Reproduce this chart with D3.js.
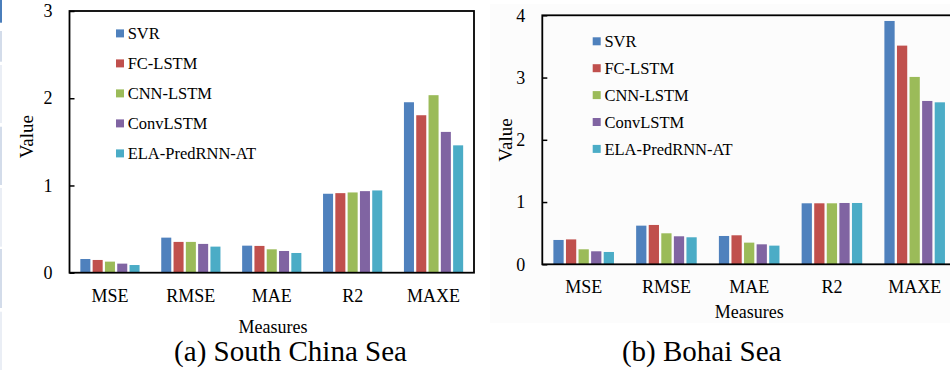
<!DOCTYPE html>
<html>
<head>
<meta charset="utf-8">
<script src="https://cdn.jsdelivr.net/npm/d3@7/dist/d3.min.js"></script>
<style>
  html, body { margin: 0; padding: 0; background: #ffffff; }
  svg { display: block; }
  text { font-family: "Liberation Serif", "Times New Roman", serif; fill: #000; }
</style>
</head>
<body>
<svg id="chart" width="950" height="370"></svg>
<script>
// Categories and model names
const measures = ["MSE", "RMSE", "MAE", "R2", "MAXE"];
const models = ["SVR", "FC-LSTM", "CNN-LSTM", "ConvLSTM", "ELA-PredRNN-AT"];
const modelColors = ["#4F81BD", "#C0504D", "#9BBB59", "#8064A2", "#4BACC6"];

// (a) South China Sea — one array per model, ordered as `measures`
const scsSVR      = [0.157, 0.402, 0.310, 0.905, 1.954];
const scsFCLSTM   = [0.146, 0.353, 0.307, 0.912, 1.805];
const scsCNNLSTM  = [0.127, 0.353, 0.268, 0.920, 2.035];
const scsConvLSTM = [0.104, 0.330, 0.249, 0.935, 1.614];
const scsELA      = [0.088, 0.299, 0.226, 0.943, 1.460];
const scsTicks = [0, 1, 2, 3];

// (b) Bohai Sea
const bhSVR      = [0.391, 0.621, 0.455, 0.980, 3.909];
const bhFCLSTM   = [0.400, 0.632, 0.466, 0.980, 3.513];
const bhCNNLSTM  = [0.241, 0.498, 0.348, 0.980, 3.010];
const bhConvLSTM = [0.209, 0.450, 0.321, 0.985, 2.624];
const bhELA      = [0.198, 0.434, 0.300, 0.985, 2.602];
const bhTicks = [0, 1, 2, 3, 4];

const svg = d3.select("#chart");

// thin sidebar strip on the far left edge
const strip = [[0, 22.7, "#4a7ebb"], [31, 61.7, "#d3dcea"], [65, 123, "#eaeef5"],
               [126.7, 185, "#d3dcea"], [188, 246.7, "#eaeef5"], [249, 308, "#d3dcea"],
               [311.7, 370, "#eaeef5"]];
svg.selectAll("rect.strip").data(strip).join("rect")
  .attr("class", "strip")
  .attr("x", 0).attr("width", 2)
  .attr("y", d => d[0]).attr("height", d => d[1] - d[0])
  .attr("fill", d => d[2]);

// faint panel background behind the second chart
svg.append("rect")
  .attr("x", 490).attr("y", 4).attr("width", 460).attr("height", 319)
  .attr("fill", "#fcfcfc");

function drawPanel(cfg) {
  const g = svg.append("g");
  const series = cfg.series;

  const x = d3.scaleBand().domain(measures).range([cfg.left, cfg.right]).padding(0);
  const bw = x.bandwidth();
  const step = bw * 0.152, barW = bw * 0.124;
  const gw = 4 * step + barW;
  const xi = d3.scaleBand().domain(models)
    .range([-gw / 2, gw / 2])
    .paddingInner((step - barW) / step).paddingOuter(0);

  const y = d3.scaleLinear().domain([0, cfg.yMax]).range([cfg.bottom, cfg.top]);

  // bars
  const rows = [];
  measures.forEach((m, j) => {
    models.forEach((mod, i) => rows.push({ m, mod, i, v: series[i][j] }));
  });
  g.selectAll("rect.bar").data(rows).join("rect")
    .attr("class", "bar")
    .attr("x", d => x(d.m) + bw / 2 + xi(d.mod))
    .attr("width", xi.bandwidth())
    .attr("y", d => y(d.v))
    .attr("height", d => y(0) - y(d.v))
    .attr("fill", d => modelColors[d.i]);

  // frame
  g.append("rect")
    .attr("x", cfg.left).attr("y", cfg.top)
    .attr("width", cfg.right - cfg.left).attr("height", cfg.bottom - cfg.top)
    .attr("fill", "none").attr("stroke", "#000").attr("stroke-width", 1.8);

  // y axis with inward ticks
  const ya = g.append("g")
    .attr("transform", `translate(${cfg.left},0)`)
    .call(d3.axisLeft(y).tickValues(cfg.ticks).tickFormat(d3.format("d"))
      .tickSizeInner(-5).tickSizeOuter(0).tickPadding(17));
  ya.select(".domain").remove();
  ya.selectAll(".tick line").attr("stroke", "#000").attr("stroke-width", 1.5);
  ya.selectAll(".tick text")
    .style("font-family", "'Liberation Serif', serif")
    .style("font-size", "18px").attr("fill", "#000");

  // category labels
  g.selectAll("text.cat").data(measures).join("text")
    .attr("class", "cat")
    .attr("x", d => x(d) + bw / 2)
    .attr("y", cfg.catY)
    .attr("text-anchor", "middle")
    .style("font-size", "18px")
    .text(d => d);

  // axis titles
  g.append("text")
    .attr("x", cfg.measuresX).attr("y", cfg.measuresY)
    .attr("text-anchor", "middle").style("font-size", "18px")
    .text("Measures");
  g.append("text")
    .attr("transform", `translate(${cfg.valueX},${cfg.valueY}) rotate(-90)`)
    .attr("text-anchor", "middle").style("font-size", "19px")
    .text("Value");

  // legend
  const lg = g.selectAll("g.leg").data(models).join("g")
    .attr("class", "leg")
    .attr("transform", (d, i) => `translate(${cfg.legX},${cfg.legY + i * cfg.legStep})`);
  lg.append("rect")
    .attr("x", 0).attr("y", -4).attr("width", 8).attr("height", 8)
    .attr("fill", (d, i) => modelColors[i]);
  lg.append("text")
    .attr("x", 11.7).attr("y", 6)
    .style("font-size", "16.5px")
    .text(d => d);

  // caption
  g.append("text")
    .attr("x", cfg.captionX).attr("y", 361)
    .attr("text-anchor", "middle").style("font-size", "29px")
    .text(cfg.caption);
}

drawPanel({
  series: [scsSVR, scsFCLSTM, scsCNNLSTM, scsConvLSTM, scsELA],
  ticks: scsTicks, yMax: 3,
  left: 69.5, right: 474, top: 11, bottom: 272.7,
  catY: 302, measuresX: 273, measuresY: 332.5,
  valueX: 33, valueY: 136.7,
  legX: 116, legY: 33.4, legStep: 30,
  captionX: 290.5, caption: "(a) South China Sea"
});

drawPanel({
  series: [bhSVR, bhFCLSTM, bhCNNLSTM, bhConvLSTM, bhELA],
  ticks: bhTicks, yMax: 4,
  left: 542.3, right: 542.3 + 5 * 82.75, top: 15.3, bottom: 264.3,
  catY: 293, measuresX: 749.3, measuresY: 318,
  valueX: 511.5, valueY: 140,
  legX: 592.7, legY: 41.3, legStep: 26.9,
  captionX: 701.7, caption: "(b) Bohai Sea"
});
</script>
</body>
</html>
